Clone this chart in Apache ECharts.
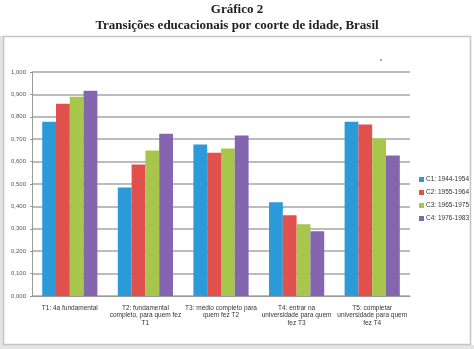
<!DOCTYPE html>
<html><head><meta charset="utf-8">
<script src="https://cdn.jsdelivr.net/npm/echarts@6/dist/echarts.min.js"></script>
<style>html,body{margin:0;padding:0;background:#fff}#c{width:474px;height:349px}</style>
</head><body><div id="c"></div>
<script>
const categories = [
  "T1: 4a fundamental",
  "T2: fundamental\ncompleto, para quem fez\nT1",
  "T3: médio completo para\nquem fez T2",
  "T4: entrar na\nuniversidade para quem\nfez T3",
  "T5: completar\nuniversidade para quem\nfez T4"
];
const seriesNames = ["C1: 1944-1954", "C2: 1955-1964", "C3: 1965-1975", "C4: 1976-1983"];
const c1 = [0.778, 0.484, 0.676, 0.418, 0.778];
const c2 = [0.858, 0.587, 0.640, 0.360, 0.766];
const c3 = [0.889, 0.649, 0.658, 0.320, 0.703];
const c4 = [0.916, 0.724, 0.716, 0.289, 0.627];
const colors = ["#2c9ad8", "#e0504d", "#a8c54c", "#8466b0"];
const values = [c1, c2, c3, c4];

const chart = echarts.init(document.getElementById('c'), null, {renderer: 'canvas'});
chart.setOption({
  animation: false,
  backgroundColor: '#fff',
  title: [
    {text: 'Gráfico 2', left: 'center', top: -2,
     textStyle: {fontFamily: 'Liberation Serif', fontWeight: 'bold', fontSize: 13, color: '#222'}},
    {text: 'Transições educacionais por coorte de idade, Brasil', left: 'center', top: 14,
     textStyle: {fontFamily: 'Liberation Serif', fontWeight: 'bold', fontSize: 13, color: '#222'}}
  ],
  graphic: [
    {type: 'rect', shape: {x: 0, y: 345, width: 474, height: 4}, style: {fill: '#e4e4e4'}, silent: true},
    {type: 'rect', shape: {x: 0, y: 36, width: 3, height: 310}, style: {fill: '#e4e4e4'}, silent: true},
    {type: 'rect', shape: {x: 3.5, y: 36.5, width: 467, height: 308}, style: {fill: 'none', stroke: '#c4c4c4', lineWidth: 1.5}, silent: true},
    {type: 'circle', shape: {cx: 381, cy: 60, r: 0.8}, style: {fill: '#333'}, silent: true}
  ],
  legend: {
    orient: 'vertical', left: 419, top: 176, padding: 0,
    itemWidth: 5, itemHeight: 5, itemGap: 6, icon: 'rect',
    textStyle: {fontFamily: 'Liberation Sans', fontSize: 6.5, color: '#333', padding: [0,0,0,-3]},
    data: seriesNames
  },
  grid: {left: 32, right: 64, top: 72, bottom: 53, containLabel: false},
  xAxis: {
    type: 'category', data: categories,
    axisLine: {lineStyle: {color: '#999', width: 1}},
    axisTick: {show: false},
    axisLabel: {interval: 0, fontFamily: 'Liberation Sans', fontSize: 6.5, color: '#333', lineHeight: 7.5, margin: 8}
  },
  yAxis: {
    type: 'value', min: 0, max: 1, interval: 0.1,
    axisLine: {show: true, lineStyle: {color: '#999', width: 1}},
    axisTick: {show: true, length: 2, lineStyle: {color: '#999'}},
    splitLine: {lineStyle: {color: '#a6a6a6', width: 1.5}},
    axisLabel: {fontFamily: 'Liberation Sans', fontSize: 6, color: '#555', margin: 6,
      formatter: v => v.toFixed(3).replace('.', ',')}
  },
  series: seriesNames.map((n, i) => ({
    name: n, type: 'bar', data: values[i], barGap: '0%', barCategoryGap: '27%',
    itemStyle: {color: colors[i]}
  }))
});
</script></body></html>
